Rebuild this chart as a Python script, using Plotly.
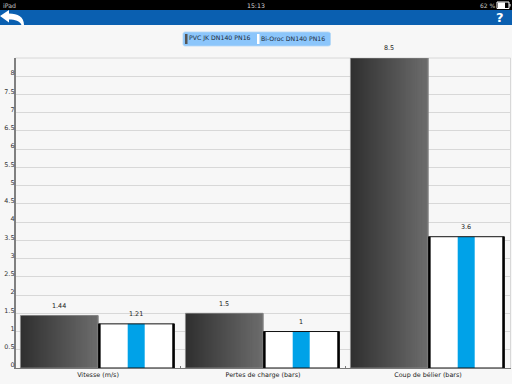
import plotly.graph_objects as go

categories = ["Vitesse (m/s)", "Pertes de charge (bars)", "Coup de bélier (bars)"]
pvc_values = [1.44, 1.5, 8.5]
bioroc_values = [1.21, 1.0, 3.6]
pvc_labels = ["1.44", "1.5", "8.5"]
bioroc_labels = ["1.21", "1", "3.6"]
series_names = ["PVC JK DN140 PN16", "Bi-Oroc DN140 PN16"]
tick_values = [i * 0.5 for i in range(17)]
tick_labels = ["0", "0.5", "1", "1.5", "2", "2.5", "3", "3.5", "4", "4.5", "5", "5.5", "6", "6.5", "7", "7.5", "8"]

W, H = 512, 384
FONT = "DejaVu Sans"
TXT = "#222222"
SMALL = 6.4


def px(x):
    return x / W


def py(y):
    return 1 - y / H


def pth(points):
    out = []
    for cmd, *vals in points:
        coords = " ".join(
            f"{px(vals[i]):.5f},{py(vals[i + 1]):.5f}" for i in range(0, len(vals), 2)
        )
        out.append(f"{cmd} {coords}")
    return " ".join(out) + " Z"


DARK_OFF, DARK_W = -0.47, 0.47
WHITE_OFF, WHITE_W = 0.003, 0.46
BLUE_OFF, BLUE_W = 0.18, 0.103
SIDE_W = 0.013
STEPS = 78
C0, C1 = 0x30, 0x6c

fig = go.Figure()

# gradient-filled PVC bars: same values, split into narrow overlapping slices
sx, sy, so, sw, sc = [], [], [], [], []
step = DARK_W / STEPS
for c, v in zip(categories, pvc_values):
    for k in range(STEPS):
        t = k / (STEPS - 1)
        g = round(C0 + (C1 - C0) * t)
        sx.append(c)
        sy.append(v)
        so.append(DARK_OFF + step * k)
        sw.append(step * min(3, STEPS - k))
        sc.append(f"rgb({g},{g},{g})")
fig.add_trace(go.Bar(x=sx, y=sy, offset=so, width=sw,
                     marker=dict(color=sc, line=dict(width=0)), showlegend=False, hoverinfo="skip"))
fig.add_trace(go.Bar(x=categories, y=pvc_values, name=series_names[0], offset=DARK_OFF, width=DARK_W,
                     marker=dict(color="rgba(0,0,0,0)", line=dict(color="#8c8c8c", width=0.8)),
                     showlegend=False))

# Bi-Oroc bars: white fill, blue centre stripe, thick black sides, thin black outline
fig.add_trace(go.Bar(x=categories, y=bioroc_values, offset=WHITE_OFF, width=WHITE_W,
                     marker=dict(color="#ffffff", line=dict(width=0)), showlegend=False, hoverinfo="skip"))
fig.add_trace(go.Bar(x=categories, y=bioroc_values, offset=BLUE_OFF, width=BLUE_W,
                     marker=dict(color="#00a2e8", line=dict(width=0)), showlegend=False, hoverinfo="skip"))
fig.add_trace(go.Bar(x=categories + categories, y=bioroc_values + bioroc_values,
                     offset=[WHITE_OFF] * 3 + [WHITE_OFF + WHITE_W - SIDE_W] * 3, width=SIDE_W,
                     marker=dict(color="#000000", line=dict(width=0)), showlegend=False, hoverinfo="skip"))
fig.add_trace(go.Bar(x=categories, y=bioroc_values, name=series_names[1], offset=WHITE_OFF, width=WHITE_W,
                     marker=dict(color="rgba(0,0,0,0)", line=dict(color="#111111", width=1)),
                     showlegend=False))

shapes = [
    dict(type="rect", xref="paper", yref="paper", x0=0, x1=1, y0=py(10), y1=1,
         fillcolor="#000000", line_width=0, layer="below"),
    dict(type="rect", xref="paper", yref="paper", x0=0, x1=1, y0=py(25), y1=py(10),
         fillcolor="#0a5fb0", line_width=0, layer="below"),
    # back arrow
    dict(type="path", xref="paper", yref="paper", fillcolor="#ffffff", line_width=0,
         path=pth([("M", 0, 16), ("L", 9, 10), ("L", 9, 13.5), ("C", 18, 13.5, 24, 17, 24, 25),
                   ("L", 21.5, 25), ("C", 20, 21, 15, 19.5, 9, 19.5), ("L", 9, 22.5)])),
    # battery
    dict(type="rect", xref="paper", yref="paper", x0=px(497), x1=px(509), y0=py(8.5), y1=py(2),
         fillcolor="#000000", line=dict(color="#ffffff", width=1)),
    dict(type="rect", xref="paper", yref="paper", x0=px(498), x1=px(505), y0=py(8), y1=py(2.5),
         fillcolor="#ffffff", line_width=0),
    dict(type="rect", xref="paper", yref="paper", x0=px(509.5), x1=px(510.5), y0=py(6.5), y1=py(4),
         fillcolor="#ffffff", line_width=0),
    # legend box
    dict(type="path", xref="paper", yref="paper", fillcolor="#8cc6fb",
         line=dict(color="#b5d8f5", width=0.8),
         path=pth([("M", 185, 32), ("L", 328, 32), ("C", 330, 32, 330.5, 33, 330.5, 34),
                   ("L", 330.5, 44), ("C", 330.5, 45, 330, 46, 328, 46), ("L", 185, 46),
                   ("C", 184, 46, 183, 45, 183, 44), ("L", 183, 34), ("C", 183, 33, 184, 32, 185, 32)])),
    dict(type="rect", xref="paper", yref="paper", x0=px(185), x1=px(187.5), y0=py(44), y1=py(34),
         fillcolor="#555555", line_width=0),
    dict(type="rect", xref="paper", yref="paper", x0=px(257), x1=px(259.5), y0=py(44), y1=py(34),
         fillcolor="#ffffff", line_width=0),
    # plot frame top and right
    dict(type="line", xref="paper", yref="paper", x0=px(15.5), x1=px(510.5), y0=py(58), y1=py(58),
         line=dict(color="#d8d8d8", width=1), layer="below"),
    dict(type="line", xref="paper", yref="paper", x0=px(510.5), x1=px(510.5), y0=py(58), y1=py(368),
         line=dict(color="#d8d8d8", width=1), layer="below"),
]


def note(text, x, y, size=SMALL, color=TXT, anchor="left", bold=False):
    return dict(text=f"<b>{text}</b>" if bold else text, xref="paper", yref="paper",
                x=px(x), y=py(y), xanchor=anchor, yanchor="middle", showarrow=False,
                borderpad=0, borderwidth=0, font=dict(family=FONT, size=size, color=color))


def value_label(cat, val, text, xshift):
    return dict(text=text, xref="x", yref="y", x=cat, y=val, xshift=xshift, yshift=9.5,
                xanchor="center", yanchor="middle", showarrow=False, borderpad=0,
                font=dict(family=FONT, size=SMALL, color=TXT))


annotations = [
    note("iPad", 3, 5.5, 6.2, "#c8c8c8"),
    note("15:13", 256, 5.5, 6.2, "#d8d8d8", "center"),
    note("62 %", 495.5, 5.5, 6, "#c8c8c8", "right"),
    note("?", 500, 17.5, 13, "#ffffff", "center", True),
    note(series_names[0], 189, 38.5, 6.2, "#1c2c3c"),
    note(series_names[1], 261, 38.5, 6.2, "#1c2c3c"),
]
for c, v, t in zip(categories, pvc_values, pvc_labels):
    annotations.append(value_label(c, v, t, -38.8))
for c, v, t in zip(categories, bioroc_values, bioroc_labels):
    annotations.append(value_label(c, v, t, 38.4))

fig.update_layout(
    width=W, height=H, autosize=False,
    margin=dict(l=0, r=0, t=0, b=0, pad=0),
    paper_bgcolor="#f7f7f7", plot_bgcolor="#f7f7f7",
    barmode="overlay", showlegend=False,
    shapes=shapes, annotations=annotations,
    font=dict(family=FONT, size=SMALL, color=TXT),
    xaxis=dict(domain=[px(15.5), px(510.5)], type="category", categoryorder="array",
               categoryarray=categories, range=[-0.5, 2.5], showgrid=False, zeroline=False,
               showline=True, linecolor="#777777", linewidth=1, tickson="boundaries",
               ticks="inside", ticklen=2, tickcolor="#777777", tickwidth=1,
               tickfont=dict(family=FONT, size=SMALL, color=TXT), automargin=False),
    yaxis=dict(domain=[py(368), py(58)], range=[0, 8.5], tickmode="array", tickvals=tick_values,
               ticktext=tick_labels, showgrid=True, gridcolor="#d8d8d8", gridwidth=1, zeroline=False,
               showline=True, linecolor="#808080", linewidth=1.5, ticks="", ticklabelshift=-3,
               ticklabelstandoff=-2, tickfont=dict(family=FONT, size=SMALL, color="#333333"), automargin=False),
)

fig.write_html("out.html", config=dict(displayModeBar=False),
               post_script="document.body.style.margin='0';document.body.style.overflow='hidden';")
